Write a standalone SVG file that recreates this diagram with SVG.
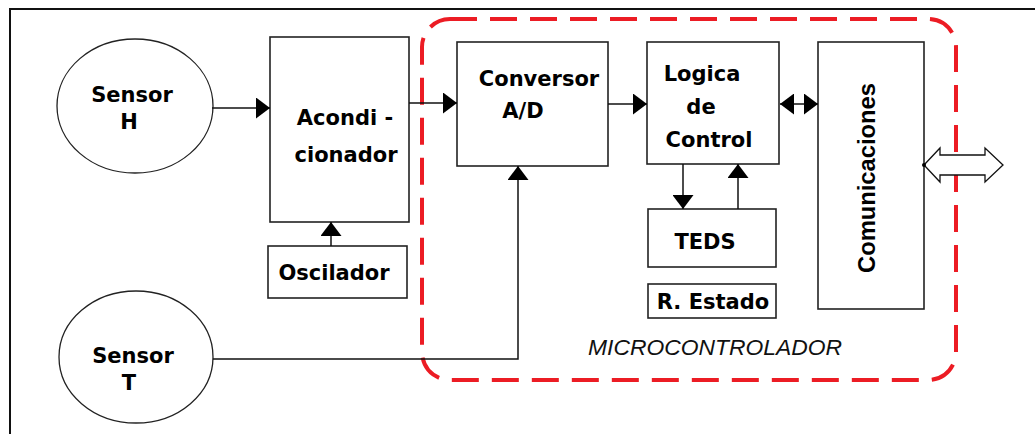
<svg xmlns="http://www.w3.org/2000/svg" width="1035" height="434" viewBox="0 0 1035 434">
  <style>
    .box { fill: #fff; stroke: #222; stroke-width: 1.6; }
    .ell { fill: #fff; stroke: #222; stroke-width: 1.3; }
    .lbl { font-family: "DejaVu Sans", Verdana, sans-serif; font-weight: bold; font-size: 21px; fill: #000; text-anchor: middle; }
    .wire { fill: none; stroke: #111; stroke-width: 1.5; }
    .arr { marker-end: url(#tip); }
  </style>
  <defs>
    <marker id="tip" markerUnits="userSpaceOnUse" markerWidth="14" markerHeight="21" refX="14" refY="10.5" orient="auto-start-reverse">
      <path d="M0,0 L14,10.5 L0,21 z" fill="#000"/>
    </marker>
  </defs>

  <rect width="1035" height="434" fill="#fff"/>
  <!-- page frame -->
  <path d="M10,434 L10,9 L1035,9" fill="none" stroke="#111" stroke-width="2"/>

  <!-- microcontroller boundary -->
  <g id="microcontrolador">
    <rect x="422" y="19" width="534" height="361" rx="28" ry="28" fill="none" stroke="#ec1c24" stroke-width="4" stroke-dasharray="27 13"/>
    <text x="588" y="355" textLength="254" lengthAdjust="spacingAndGlyphs" font-family="'Liberation Sans', Arial, sans-serif" font-style="italic" font-size="22.5" fill="#111">MICROCONTROLADOR</text>
  </g>

  <g id="sensor-h">
    <ellipse class="ell" cx="135" cy="106" rx="78" ry="67"/>
    <text class="lbl" x="132" y="102">Sensor</text>
    <text class="lbl" x="129" y="129">H</text>
  </g>

  <g id="sensor-t">
    <ellipse class="ell" cx="136" cy="357" rx="77" ry="66"/>
    <text class="lbl" x="133" y="363">Sensor</text>
    <text class="lbl" x="129" y="390">T</text>
  </g>

  <g id="acondicionador">
    <rect class="box" x="270" y="37" width="139" height="185"/>
    <text class="lbl" x="345" y="125">Acondi -</text>
    <text class="lbl" x="346" y="162">cionador</text>
  </g>

  <g id="oscilador">
    <rect class="box" x="268" y="246" width="139" height="52"/>
    <text class="lbl" x="334" y="280">Oscilador</text>
  </g>

  <g id="conversor">
    <rect class="box" x="457" y="42" width="151" height="124"/>
    <text class="lbl" x="539" y="86">Conversor</text>
    <text class="lbl" x="523" y="118">A/D</text>
  </g>

  <g id="logica">
    <rect class="box" x="647" y="42" width="132" height="122"/>
    <text class="lbl" x="702" y="81">Logica</text>
    <text class="lbl" x="701" y="114">de</text>
    <text class="lbl" x="709" y="147">Control</text>
  </g>

  <g id="teds">
    <rect class="box" x="648" y="209" width="128" height="58"/>
    <text class="lbl" x="705" y="249">TEDS</text>
  </g>

  <g id="r-estado">
    <rect class="box" x="648" y="284" width="128" height="34"/>
    <text class="lbl" x="713" y="309">R. Estado</text>
  </g>

  <g id="comunicaciones">
    <rect class="box" x="818" y="42" width="106" height="267"/>
    <text transform="translate(875,178) rotate(-90)" text-anchor="middle" textLength="190" lengthAdjust="spacingAndGlyphs" font-family="'Liberation Sans', Arial, sans-serif" font-weight="bold" font-size="24" fill="#000">Comunicaciones</text>
  </g>

  <g id="connectors">
    <line class="wire arr" x1="212" y1="108" x2="270" y2="108"/>
    <line class="wire arr" x1="409" y1="103" x2="457" y2="103"/>
    <line class="wire arr" x1="608" y1="104" x2="647" y2="104"/>
    <line class="wire arr" x1="780" y1="104" x2="818" y2="104" marker-start="url(#tip)"/>
    <line class="wire arr" x1="331" y1="246" x2="331" y2="222"/>
    <polyline class="wire arr" points="213,359 518,359 518,166"/>
    <line class="wire arr" x1="683" y1="164" x2="683" y2="209"/>
    <line class="wire arr" x1="738" y1="209" x2="738" y2="164"/>
    <!-- external bus -->
    <polygon points="924,165 940,148 940,155 985,155 985,148 1003,165 985,182 985,175 940,175 940,182" fill="#fff" stroke="#111" stroke-width="1.3"/>
    <circle cx="924" cy="165" r="2" fill="#000"/>
  </g>
</svg>
